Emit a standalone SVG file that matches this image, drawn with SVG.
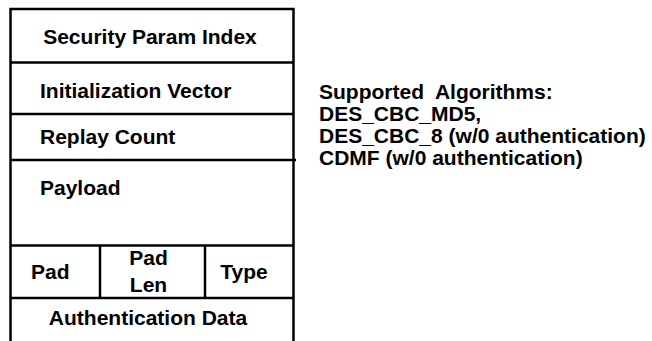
<svg xmlns="http://www.w3.org/2000/svg" width="652" height="341" viewBox="0 0 652 341">
<style>
.ln{stroke:#000;stroke-width:2.5;fill:none}
.t{font-family:"Liberation Sans",Arial,Helvetica,sans-serif;font-weight:bold;font-size:21px;fill:#000}
.m{text-anchor:middle}
</style>
<rect width="652" height="341" fill="#fff"/>
<g id="frame">
<path class="ln" d="M10.5 341V9H293.5V341"/>
</g>
<g id="connectors">
<line class="ln" x1="10.5" y1="62.5" x2="293.5" y2="62.5"/>
<line class="ln" x1="10.5" y1="114" x2="293.5" y2="114"/>
<line class="ln" x1="10.5" y1="160" x2="296" y2="160"/>
<line class="ln" x1="10.5" y1="245.5" x2="293.5" y2="245.5"/>
<line class="ln" x1="10.5" y1="298" x2="293.5" y2="298"/>
<line class="ln" x1="100" y1="245.5" x2="100" y2="298"/>
<line class="ln" x1="205" y1="245.5" x2="205" y2="298"/>
</g>
<g id="spi"><text class="t m" x="150" y="44">Security Param Index</text></g>
<g id="iv"><text class="t" x="40" y="98">Initialization Vector</text></g>
<g id="replay"><text class="t" x="40" y="144">Replay Count</text></g>
<g id="payload"><text class="t" x="40" y="195">Payload</text></g>
<g id="pad"><text class="t" x="31" y="279">Pad</text></g>
<g id="padlen"><text class="t m" x="148.5" y="265">Pad</text><text class="t m" x="148.5" y="292">Len</text></g>
<g id="type"><text class="t m" x="244" y="279">Type</text></g>
<g id="auth"><text class="t m" x="148" y="325">Authentication Data</text></g>
<g id="algos">
<text class="t" x="319" y="99" xml:space="preserve">Supported  Algorithms:</text>
<text class="t" x="319" y="121">DES_CBC_MD5,</text>
<text class="t" x="319" y="143">DES_CBC_8 (w/0 authentication)</text>
<text class="t" x="319" y="165">CDMF (w/0 authentication)</text>
</g>
</svg>
